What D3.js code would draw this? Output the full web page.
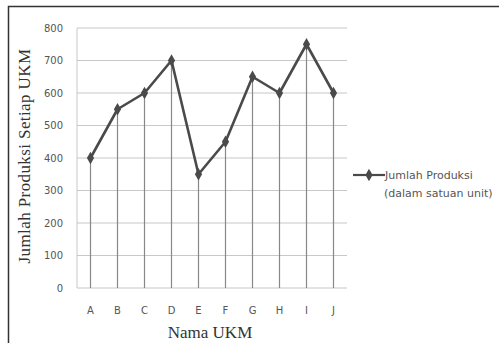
<!DOCTYPE html>
<html>
<head>
<meta charset="utf-8">
<script src="https://cdn.jsdelivr.net/npm/d3@7"></script>
<style>
  body { margin: 0; background: #fff; }
  svg { display: block; }
</style>
</head>
<body>
<script>
// data
var categories = ["A", "B", "C", "D", "E", "F", "G", "H", "I", "J"],
    values = [400, 550, 600, 700, 350, 450, 650, 600, 750, 600],
    yTicks = [0, 100, 200, 300, 400, 500, 600, 700, 800],
    seriesName = ["Jumlah Produksi", "(dalam satuan unit)"];

var width = 499, height = 343,
    plot = {left: 77, right: 347, top: 28, bottom: 288};

var svg = d3.select("body").append("svg")
    .attr("width", width)
    .attr("height", height);

// frame
svg.append("rect")
    .attr("x", 8.5).attr("y", 6.5)
    .attr("width", 520).attr("height", 360)
    .attr("fill", "none")
    .attr("stroke", "#333")
    .attr("stroke-width", 1.5);

var x = d3.scaleBand()
    .domain(categories)
    .range([plot.left, plot.right]);
var y = d3.scaleLinear()
    .domain([0, 800])
    .range([plot.bottom, plot.top]);

// horizontal gridlines
svg.append("g")
    .selectAll("line")
    .data(yTicks)
    .enter().append("line")
    .attr("x1", plot.left).attr("x2", plot.right)
    .attr("y1", function(d) { return y(d); })
    .attr("y2", function(d) { return y(d); })
    .attr("stroke", "#c8c8c8")
    .attr("stroke-width", 1.2);

// left axis line
svg.append("line")
    .attr("x1", plot.left).attr("x2", plot.left)
    .attr("y1", plot.top).attr("y2", plot.bottom)
    .attr("stroke", "#c8c8c8");

// drop lines
svg.append("g")
    .selectAll("line")
    .data(values)
    .enter().append("line")
    .attr("x1", function(d, i) { return x(categories[i]) + x.bandwidth() / 2; })
    .attr("x2", function(d, i) { return x(categories[i]) + x.bandwidth() / 2; })
    .attr("y1", function(d) { return y(d); })
    .attr("y2", y(0))
    .attr("stroke", "#888")
    .attr("stroke-width", 1.2);

// y tick labels
svg.append("g")
    .selectAll("text")
    .data(yTicks)
    .enter().append("text")
    .attr("x", 63)
    .attr("y", function(d) { return y(d); })
    .attr("dy", "0.35em")
    .attr("text-anchor", "end")
    .attr("font-family", "DejaVu Sans, sans-serif")
    .attr("font-size", 10)
    .attr("fill", "#555")
    .text(function(d) { return d; });

// x tick labels
svg.append("g")
    .selectAll("text")
    .data(categories)
    .enter().append("text")
    .attr("x", function(d) { return x(d) + x.bandwidth() / 2; })
    .attr("y", 310)
    .attr("dy", "0.35em")
    .attr("text-anchor", "middle")
    .attr("font-family", "DejaVu Sans, sans-serif")
    .attr("font-size", 10)
    .attr("fill", "#555")
    .text(function(d) { return d; });

// the line
var line = d3.line()
    .x(function(d, i) { return x(categories[i]) + x.bandwidth() / 2; })
    .y(function(d) { return y(d); });

svg.append("path")
    .datum(values)
    .attr("d", line)
    .attr("fill", "none")
    .attr("stroke", "#4a4a4a")
    .attr("stroke-width", 2.6)
    .attr("stroke-linejoin", "round");

var diamond = d3.symbol().type(d3.symbolDiamond).size(45);

svg.append("g")
    .selectAll("path")
    .data(values)
    .enter().append("path")
    .attr("d", diamond)
    .attr("transform", function(d, i) {
        return "translate(" + (x(categories[i]) + x.bandwidth() / 2) + "," + y(d) + ")"; })
    .attr("fill", "#4a4a4a");

// axis titles
svg.append("text")
    .attr("x", 210).attr("y", 338)
    .attr("text-anchor", "middle")
    .attr("font-family", "Liberation Serif, serif")
    .attr("font-size", 17)
    .attr("fill", "#333")
    .text("Nama UKM");

svg.append("text")
    .attr("transform", "translate(30," + 156 + ") rotate(-90)")
    .attr("text-anchor", "middle")
    .attr("font-family", "Liberation Serif, serif")
    .attr("font-size", 17)
    .attr("letter-spacing", 0.4)
    .attr("fill", "#333")
    .text("Jumlah Produksi Setiap UKM");

// legend
var legend = svg.append("g");
legend.append("line")
    .attr("x1", 353).attr("x2", 385)
    .attr("y1", 175).attr("y2", 175)
    .attr("stroke", "#4a4a4a")
    .attr("stroke-width", 2.2);
legend.append("path")
    .attr("d", diamond)
    .attr("transform", "translate(369,175)")
    .attr("fill", "#4a4a4a");
legend.selectAll("text")
    .data(seriesName)
    .enter().append("text")
    .attr("x", function(d, i) { return i === 0 ? 385 : 384; })
    .attr("y", function(d, i) { return 175 + i * 18; })
    .attr("dy", "0.35em")
    .attr("font-family", "DejaVu Sans, sans-serif")
    .attr("font-size", 11)
    .attr("fill", "#555")
    .text(function(d) { return d; });
</script>
</body>
</html>
